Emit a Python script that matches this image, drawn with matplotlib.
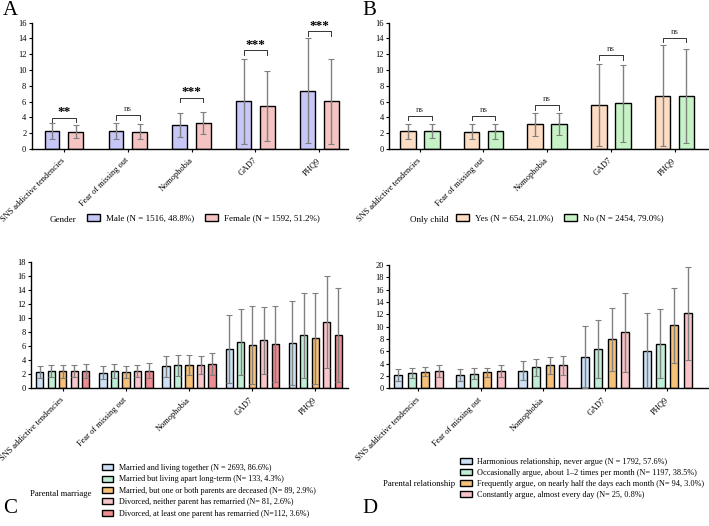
import numpy as np
import matplotlib
matplotlib.use("Agg")
import matplotlib.pyplot as plt
from matplotlib.patches import Patch

plt.rcParams['font.family'] = ['Liberation Serif', 'DejaVu Serif']
plt.rcParams['font.size'] = 6.5

# categorias del eje x
cats = ["SNS addictive tendencies", "Fear of missing out", "Nomophobia", "GAD7", "PHQ9"]

# A - genero
a_labels = ["Male (N = 1516, 48.8%)", "Female (N = 1592, 51.2%)"]
a_mean = [[2.3, 2.25, 3.0, 6.05, 7.35],
          [2.2, 2.2, 3.3, 5.4, 6.05]]
a_sd = [[1.0, 1.05, 1.5, 5.4, 6.65],
        [0.85, 0.9, 1.4, 4.45, 5.4]]
a_sig = ["**", "ns", "***", "***", "***"]
a_sig_y = [3.95, 4.25, 6.5, 12.5, 14.9]
a_colors = ["#c6c6f7", "#f6c3c3"]

# B - hijo unico
b_labels = ["Yes (N = 654, 21.0%)", "No (N = 2454, 79.0%)"]
b_mean = [[2.25, 2.2, 3.1, 5.55, 6.7],
          [2.3, 2.25, 3.15, 5.75, 6.7]]
b_sd = [[0.95, 0.95, 1.5, 5.2, 6.4],
        [0.9, 0.95, 1.45, 4.85, 6.0]]
b_sig = ["ns", "ns", "ns", "ns", "ns"]
b_sig_y = [4.2, 4.2, 5.5, 11.9, 14.1]
b_colors = ["#fcdcc2", "#c6f3c6"]

# C - matrimonio de los padres
c_labels = ["Married and living together (N = 2693, 86.6%)",
            "Married but living apart long-term (N= 133, 4.3%)",
            "Married, but one or both parents are deceased (N= 89, 2.9%)",
            "Divorced, neither parent has remarried (N= 81, 2.6%)",
            "Divorced, at least one parent has remarried (N=112, 3.6%)"]
c_mean = [[2.3, 2.2, 3.1, 5.6, 6.5],
          [2.4, 2.4, 3.3, 6.6, 7.55],
          [2.4, 2.3, 3.35, 6.15, 7.1],
          [2.4, 2.4, 3.3, 6.8, 9.45],
          [2.4, 2.5, 3.4, 6.35, 7.65]]
c_sd = [[0.9, 0.9, 1.5, 4.9, 6.0],
        [0.85, 1.0, 1.5, 4.75, 6.05],
        [0.9, 0.9, 1.45, 5.6, 6.5],
        [0.85, 0.85, 1.3, 4.8, 6.55],
        [1.0, 1.05, 1.55, 5.4, 6.7]]
c_colors = ["#cde0f6", "#bfeed6", "#f6c078", "#f8c6ca", "#ee8c91"]

# D - relacion de los padres
d_labels = ["Harmonious relationship, never argue (N = 1792, 57.6%)",
            "Occasionally argue, about 1\u20132 times per month (N= 1197, 38.5%)",
            "Frequently argue, on nearly half the days each month (N= 94, 3.0%)",
            "Constantly argue, almost every day (N= 25, 0.8%)"]
d_mean = [[2.1, 2.1, 2.85, 5.05, 6.0],
          [2.4, 2.35, 3.4, 6.35, 7.25],
          [2.7, 2.55, 3.7, 7.95, 10.2],
          [2.8, 2.8, 3.75, 9.05, 12.2]]
d_sd = [[1.0, 0.95, 1.55, 5.0, 6.25],
        [0.8, 0.85, 1.4, 4.65, 5.55],
        [0.8, 0.8, 1.4, 5.15, 6.15],
        [1.0, 1.0, 1.55, 6.45, 7.55]]
d_colors = ["#cde0f6", "#bfeed6", "#f6c078", "#f8c3c8"]


def panel(ax, means, sds, colors, width, pitch, ymax, xlim):
    x = np.arange(len(cats))
    n = len(means)
    for k in range(n):
        off = (k - (n - 1) / 2) * pitch
        ax.bar(x + off, means[k], width, color=colors[k], edgecolor='black', linewidth=1.0, zorder=2)
        ax.errorbar(x + off, means[k], yerr=sds[k], fmt='none', ecolor='#808080',
                    elinewidth=1.0, capsize=2.2, capthick=0.8, zorder=3)
    ax.set_xlim(*xlim)
    ax.set_ylim(0, ymax)
    ax.set_yticks(np.arange(0, ymax + 1, 2))
    ax.set_xticks(x)
    ax.set_xticklabels(cats, rotation=45, ha='right', va='center', rotation_mode='anchor', fontsize=5.4)
    ax.tick_params(axis='both', direction='out', length=2.5, width=0.8, labelsize=6, pad=1.5)
    ax.tick_params(axis='x', pad=5)
    for s in ['top', 'right']:
        ax.spines[s].set_visible(False)
    ax.spines['left'].set_linewidth(1.0)
    ax.spines['bottom'].set_linewidth(1.0)
    return x


def brackets(ax, x, pitch, sig, sig_y):
    for i in range(len(x)):
        x0 = x[i] - pitch / 2
        x1 = x[i] + pitch / 2
        y = sig_y[i]
        ax.plot([x0, x0, x1, x1], [y - 0.6, y, y, y - 0.6], color='#333333', lw=0.7, zorder=4)
        if sig[i] == 'ns':
            ax.text(x[i], y + 0.25, 'ns', ha='center', va='bottom', fontsize=6.5, color='#333333')
        else:
            ax.text(x[i], y - 0.05, sig[i], ha='center', va='bottom', fontsize=9.5, fontweight='bold')


fig = plt.figure(figsize=(7.09, 5.26), dpi=100)

axA = fig.add_axes([0.045, 0.717, 0.446, 0.240])
xA = panel(axA, a_mean, a_sd, a_colors, 0.23, 0.37, 16, (-0.5, 4.45))
brackets(axA, xA, 0.37, a_sig, a_sig_y)

axB = fig.add_axes([0.549, 0.717, 0.450, 0.240])
xB = panel(axB, b_mean, b_sd, b_colors, 0.245, 0.375, 16, (-0.48, 4.53))
brackets(axB, xB, 0.375, b_sig, b_sig_y)

axC = fig.add_axes([0.044, 0.262, 0.447, 0.240])
panel(axC, c_mean, c_sd, c_colors, 0.115, 0.182, 18, (-0.5, 4.52))

axD = fig.add_axes([0.549, 0.262, 0.450, 0.234])
panel(axD, d_mean, d_sd, d_colors, 0.13, 0.218, 20, (-0.47, 4.66))

# leyendas
def legend(labels, colors, anchor, ncol, spacing, fs):
    hs = [Patch(facecolor=c, edgecolor='black', linewidth=1.0) for c in colors]
    fig.legend(hs, labels, loc='upper left', bbox_to_anchor=anchor, ncol=ncol, frameon=False,
               fontsize=fs, handlelength=1.4, handleheight=0.75, handletextpad=0.7,
               columnspacing=1.2, labelspacing=spacing, borderaxespad=0, borderpad=0)

fig.text(50 / 709, 1 - 220 / 526, "Gender", ha='left', va='center', fontsize=6.5)
legend(a_labels, a_colors, (87 / 709, 1 - 214 / 526), 2, 0.3, 6.5)
fig.text(410 / 709, 1 - 220 / 526, "Only child", ha='left', va='center', fontsize=6.5)
legend(b_labels, b_colors, (456 / 709, 1 - 214 / 526), 2, 0.3, 6.5)

fig.text(30 / 709, 1 - 494 / 526, "Parental marriage", ha='left', va='center', fontsize=6.2)
legend(c_labels, c_colors, (102 / 709, 1 - 464 / 526), 1, 0.42, 5.9)
fig.text(383 / 709, 1 - 484 / 526, "Parental relationship", ha='left', va='center', fontsize=6.2)
legend(d_labels, d_colors, (460 / 709, 1 - 458 / 526), 1, 0.36, 5.95)

# letras de los paneles
for lab, px, py in [("A", 3, 15), ("B", 362, 15), ("C", 3, 513), ("D", 362, 513)]:
    fig.text(px / 709, 1 - py / 526, lab, ha='left', va='baseline', fontsize=15)

plt.savefig('out.png', dpi=100)
